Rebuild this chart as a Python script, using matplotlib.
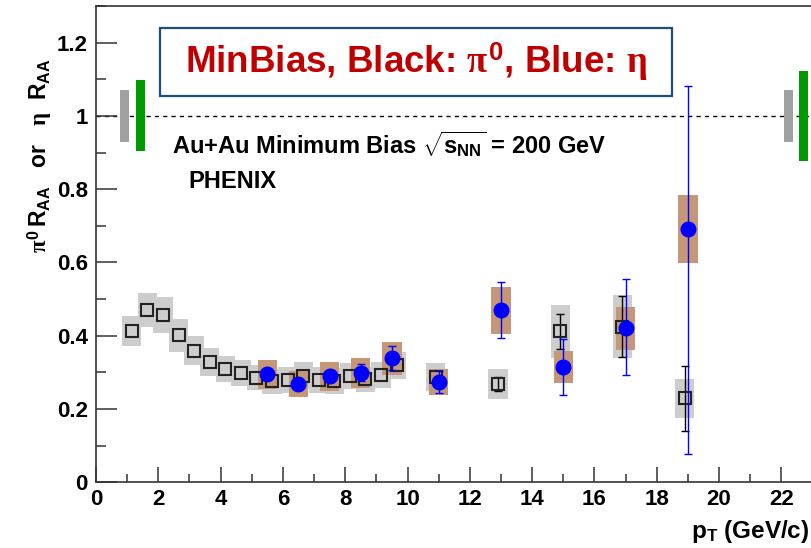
import numpy as np
import matplotlib
matplotlib.use("Agg")
import matplotlib.pyplot as plt
from matplotlib.patches import Rectangle
from matplotlib.ticker import MultipleLocator, FuncFormatter

# pi0 R_AA (black open squares)
pi0_pt = [1.15, 1.65, 2.15, 2.65, 3.15, 3.65, 4.15, 4.65, 5.15, 5.65, 6.15, 6.65,
          7.15, 7.65, 8.15, 8.65, 9.15, 9.65, 10.9, 12.9, 14.9, 16.9, 18.9]
pi0_raa = [0.414, 0.470, 0.457, 0.401, 0.359, 0.329, 0.310, 0.298, 0.286, 0.276, 0.279, 0.291,
           0.279, 0.277, 0.290, 0.281, 0.293, 0.320, 0.288, 0.268, 0.412, 0.425, 0.229]
pi0_sys = [0.041, 0.047, 0.050, 0.044, 0.040, 0.038, 0.036, 0.035, 0.034, 0.034, 0.035, 0.036,
           0.035, 0.035, 0.036, 0.035, 0.036, 0.037, 0.038, 0.040, 0.072, 0.085, 0.054]
pi0_stat = [0, 0, 0, 0, 0, 0, 0, 0, 0, 0, 0, 0,
            0, 0, 0, 0, 0, 0, 0, 0.020, 0.047, 0.083, 0.088]

# eta R_AA (blue filled circles)
eta_pt = [5.5, 6.5, 7.5, 8.5, 9.5, 11, 13, 15, 17, 19]
eta_raa = [0.295, 0.268, 0.289, 0.298, 0.339, 0.273, 0.470, 0.315, 0.420, 0.691]
eta_sys = [0.040, 0.036, 0.040, 0.040, 0.045, 0.035, 0.064, 0.043, 0.058, 0.092]
eta_stat_lo = [0.015, 0.015, 0.015, 0.022, 0.032, 0.030, 0.077, 0.076, 0.127, 0.614]
eta_stat_hi = [0.015, 0.015, 0.015, 0.025, 0.032, 0.030, 0.077, 0.076, 0.135, 0.391]

# normalisation uncertainty boxes around R_AA = 1
norm_x = [0.92, 1.42, 22.23, 22.72]
norm_err = [0.072, 0.097, 0.072, 0.122]
norm_col = ["#a0a0a0", "#009900", "#a0a0a0", "#009900"]

plt.rcParams['font.family'] = ['Liberation Sans', 'DejaVu Sans']
plt.rcParams['font.weight'] = 'bold'
plt.rcParams['mathtext.fontset'] = 'custom'
plt.rcParams['mathtext.rm'] = 'Liberation Sans:bold'
plt.rcParams['mathtext.bf'] = 'Liberation Sans:bold'
plt.rcParams['mathtext.sf'] = 'Liberation Sans:bold'
plt.rcParams['mathtext.it'] = 'Liberation Serif'

W, H = 812, 548
fig = plt.figure(figsize=(W / 100, H / 100), dpi=100)
ax = fig.add_axes([96 / W, (H - 482.3) / H, 716.5 / W, 476.3 / H])
ax.set_xlim(0, 23)
ax.set_ylim(0, 1.3)

hw = 0.31
for x, y, s in zip(pi0_pt, pi0_raa, pi0_sys):
    ax.add_patch(Rectangle((x - hw, y - s), 2 * hw, 2 * s, facecolor="#cdcdcd",
                           edgecolor="none", zorder=1))
for x, y, s in zip(eta_pt, eta_raa, eta_sys):
    ax.add_patch(Rectangle((x - hw, y - s), 2 * hw, 2 * s, facecolor="#c59779",
                           edgecolor="none", zorder=2))
for x, s, c in zip(norm_x, norm_err, norm_col):
    ax.add_patch(Rectangle((x - 0.145, 1 - s), 0.29, 2 * s, facecolor=c,
                           edgecolor="none", zorder=2))

ax.axhline(1.0, color="black", lw=1.0, ls=(0, (3, 3)), zorder=1.5)

pt = np.array(pi0_pt)
st = np.array(pi0_stat)
m = st > 0
ax.errorbar(pt[m], np.array(pi0_raa)[m], yerr=st[m], fmt="none", ecolor="black",
            elinewidth=1.0, capsize=3, capthick=1.0, zorder=3)
ax.plot(pi0_pt, pi0_raa, "s", mfc="none", mec="#222222", mew=1.5, ms=8.5, zorder=4)

ax.errorbar(eta_pt, eta_raa, yerr=[eta_stat_lo, eta_stat_hi], fmt="o", color="#0000ff",
            ms=10.5, elinewidth=1.0, capsize=3, capthick=1.0, zorder=5)

# axes styling
for side in ["left", "bottom", "top"]:
    ax.spines[side].set_linewidth(1.2)
    ax.spines[side].set_color("#333333")
ax.spines["right"].set_visible(False)
ax.xaxis.set_major_locator(MultipleLocator(2))
ax.xaxis.set_minor_locator(MultipleLocator(1))
ax.yaxis.set_major_locator(MultipleLocator(0.2))
ax.yaxis.set_minor_locator(MultipleLocator(0.1))
ax.yaxis.set_major_formatter(FuncFormatter(lambda v, p: "%g" % round(v, 2)))
ax.tick_params(axis="x", which="major", direction="in", length=10.8, width=1.1,
               labelsize=16, pad=5, color="#333333")
ax.tick_params(axis="x", which="minor", direction="in", length=5.5, width=1.1, color="#333333")
ax.tick_params(axis="y", which="major", direction="in", length=15, width=1.1,
               labelsize=16, pad=6, color="#333333")
ax.tick_params(axis="y", which="minor", direction="in", length=7.5, width=1.1, color="#333333")
ax.tick_params(top=False, right=False, which="both")

# title box
fig.add_artist(Rectangle((160 / W, 1 - 96 / H), 512 / W, 68 / H, transform=fig.transFigure,
                         facecolor="white", edgecolor="#1f4e79", lw=1.6, zorder=6))
fig.text(416 / W, 1 - 62 / H, r"MinBias, Black: $\pi^{0}$, Blue: $\eta$",
         ha="center", va="center", fontsize=26.5, color="#c00000", fontweight="bold", zorder=7)

ax.text(2.44, 0.92, r"Au+Au Minimum Bias $\sqrt{\mathrm{s}_{\mathrm{NN}}}$ = 200 GeV",
        ha="left", va="center", fontsize=17, fontweight="bold", zorder=6)
ax.text(2.95, 0.82, "PHENIX", ha="left", va="center", fontsize=17, fontweight="bold", zorder=6)

fig.text(809 / W, 3 / H, r"$\mathrm{p}_{\mathrm{T}}$ (GeV/c)", ha="right", va="bottom",
         fontsize=17.5, fontweight="bold")
fig.text(40 / W, 1 - 156 / H,
         r"$\pi^{0}\,\mathrm{R}_{\mathrm{AA}}$   or   $\eta\ \ \mathrm{R}_{\mathrm{AA}}$",
         ha="center", va="center", rotation=90, fontsize=16.5, fontweight="bold")

fig.savefig("out.png", dpi=100)
